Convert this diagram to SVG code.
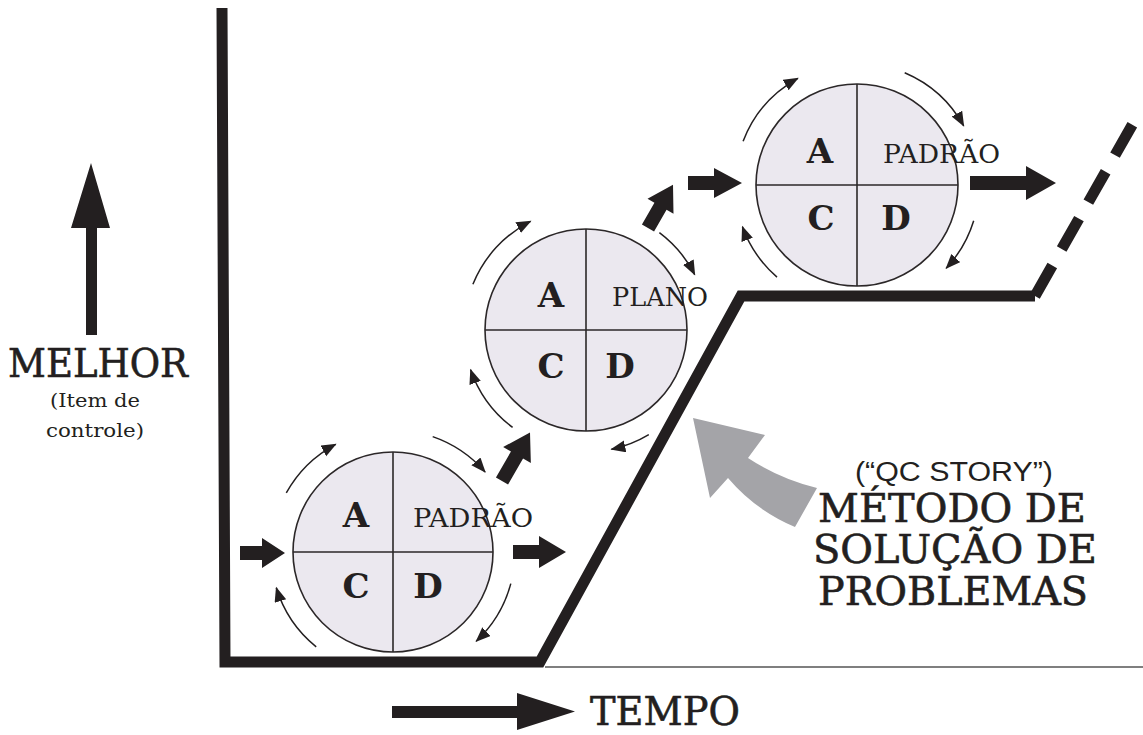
<svg xmlns="http://www.w3.org/2000/svg" width="1143" height="735" viewBox="0 0 1143 735">
  <style>
    .ink { fill: #231f20; }
    .axis { fill: none; stroke: #231f20; stroke-width: 11; stroke-linejoin: miter; }
    .disc { fill: #ebe8ef; stroke: #2b2728; stroke-width: 1.6; }
    .split { stroke: #2b2728; stroke-width: 1.6; }
    .turn { fill: none; stroke: #231f20; stroke-width: 1.5; marker-end: url(#tip); }
    .big { font-family: "DejaVu Serif", "Liberation Serif", serif; font-weight: bold; font-size: 34px; fill: #231f20; text-anchor: middle; }
    .tag { font-family: "DejaVu Serif", "Liberation Serif", serif; font-size: 26px; fill: #231f20; }
    .title { font-family: "DejaVu Serif", "Liberation Serif", serif; font-size: 39px; fill: #231f20; stroke: #231f20; stroke-width: 0.6; text-anchor: middle; }
    .note { font-family: "DejaVu Serif", "Liberation Serif", serif; font-size: 19px; fill: #231f20; text-anchor: middle; }
    .sans { font-family: "Liberation Sans", "DejaVu Sans", sans-serif; font-size: 27px; fill: #231f20; text-anchor: middle; }
  </style>
  <defs>
    <marker id="tip" markerUnits="userSpaceOnUse" markerWidth="16" markerHeight="14" refX="14" refY="6" orient="auto">
      <path d="M0,0 L15,6 L0,12 Z" fill="#231f20"/>
    </marker>
  </defs>

  <rect width="1143" height="735" fill="#ffffff"/>

  <!-- axes and improvement staircase -->
  <g id="axes">
    <path class="axis" d="M222,8 L225,662 L540,662 L741,296 L1035,296"/>
    <path class="axis" d="M1035,296 L1135,120" stroke-dasharray="35 19"/>
    <line x1="545" y1="667" x2="1143" y2="667" stroke="#555" stroke-width="1.5"/>
  </g>

  <!-- vertical axis label -->
  <g id="y-label">
    <polygon class="ink" points="91,163 110,228 97,228 97,335 86,335 86,228 71,228"/>
    <text class="title" x="98" y="377" textLength="180" lengthAdjust="spacingAndGlyphs">MELHOR</text>
    <text class="note" x="95" y="407" textLength="90" lengthAdjust="spacingAndGlyphs">(Item de</text>
    <text class="note" x="95" y="437" textLength="98" lengthAdjust="spacingAndGlyphs">controle)</text>
  </g>

  <!-- horizontal axis label -->
  <g id="x-label">
    <polygon class="ink" points="392,706 517,706 517,693 575,711.5 517,730 517,718 392,718"/>
    <text class="title" x="665" y="725" textLength="150" lengthAdjust="spacingAndGlyphs">TEMPO</text>
  </g>

  <!-- PDCA cycle 1 -->
  <g id="cycle1">
    <circle class="disc" cx="393" cy="552" r="100"/>
    <line class="split" x1="293" y1="552" x2="493" y2="552"/>
    <line class="split" x1="393" y1="452" x2="393" y2="652"/>
    <text class="big" x="356" y="527">A</text>
    <text class="tag" x="413" y="527" textLength="120" lengthAdjust="spacingAndGlyphs">PADRÃO</text>
    <text class="big" x="356" y="598">C</text>
    <text class="big" x="428" y="598">D</text>
    <path class="turn" d="M286.3,492.9 A122,122 0 0 1 335.7,444.3"/>
    <path class="turn" d="M432.7,436.6 A122,122 0 0 1 485.1,472"/>
    <path class="turn" d="M510.8,583.6 A122,122 0 0 1 476.2,641.2"/>
    <path class="turn" d="M316.2,646.8 A122,122 0 0 1 276.3,587.7"/>
  </g>

  <!-- PDCA cycle 2 -->
  <g id="cycle2">
    <circle class="disc" cx="586" cy="330" r="101"/>
    <line class="split" x1="485" y1="330" x2="687" y2="330"/>
    <line class="split" x1="586" y1="229" x2="586" y2="431"/>
    <text class="big" x="551" y="307">A</text>
    <text class="tag" x="612" y="306" textLength="96" lengthAdjust="spacingAndGlyphs">PLANO</text>
    <text class="big" x="551" y="378">C</text>
    <text class="big" x="620" y="378">D</text>
    <path class="turn" d="M472.9,284.3 A122,122 0 0 1 530.6,221.3"/>
    <path class="turn" d="M659.4,232.6 A122,122 0 0 1 694.7,274.6"/>
    <path class="turn" d="M648.8,434.6 A122,122 0 0 1 611.4,449.3"/>
    <path class="turn" d="M512.6,427.4 A122,122 0 0 1 470.6,369.7"/>
  </g>

  <!-- PDCA cycle 3 -->
  <g id="cycle3">
    <circle class="disc" cx="857" cy="185" r="101"/>
    <line class="split" x1="756" y1="185" x2="958" y2="185"/>
    <line class="split" x1="857" y1="84" x2="857" y2="286"/>
    <text class="big" x="820" y="163">A</text>
    <text class="tag" x="883" y="163" textLength="117" lengthAdjust="spacingAndGlyphs">PADRÃO</text>
    <text class="big" x="821" y="230">C</text>
    <text class="big" x="896" y="230">D</text>
    <path class="turn" d="M743.1,141.3 A122,122 0 0 1 797.9,78.3"/>
    <path class="turn" d="M904.7,72.7 A122,122 0 0 1 963.7,125.9"/>
    <path class="turn" d="M973.7,220.7 A122,122 0 0 1 946.2,268.2"/>
    <path class="turn" d="M777,277.1 A122,122 0 0 1 742.4,226.7"/>
  </g>

  <!-- block arrows linking the cycles -->
  <g id="connectors">
    <polygon class="ink" points="240,546 262,546 262,538 285,553 262,568 262,560 240,560"/>
    <polygon class="ink" points="513,545 539,545 539,536 566,552 539,568 539,559 513,559"/>
    <polygon class="ink" transform="translate(502,481) rotate(-60)" points="0,-7 30,-7 30,-16 56,0 30,16 30,7 0,7"/>
    <polygon class="ink" transform="translate(648,228) rotate(-60)" points="0,-7 25,-7 25,-15 50,0 25,15 25,7 0,7"/>
    <polygon class="ink" points="688,176 714,176 714,168 742,183 714,198 714,190 688,190"/>
    <polygon class="ink" points="970,176 1026,176 1026,166 1056,183 1026,200 1026,190 970,190"/>
  </g>

  <!-- problem solving method callout -->
  <g id="method">
    <path d="M693,418 L765,435 L748,458 Q780,479 817,488 L795,527 Q755,510 728,478 L710,498 Z" fill="#a4a4a8"/>
    <text class="sans" x="954" y="481" textLength="198" lengthAdjust="spacingAndGlyphs">(“QC STORY”)</text>
    <text class="title" x="952" y="522" textLength="268" lengthAdjust="spacingAndGlyphs">MÉTODO DE</text>
    <text class="title" x="955" y="563" textLength="284" lengthAdjust="spacingAndGlyphs">SOLUÇÃO DE</text>
    <text class="title" x="953" y="605" textLength="270" lengthAdjust="spacingAndGlyphs">PROBLEMAS</text>
  </g>
</svg>
